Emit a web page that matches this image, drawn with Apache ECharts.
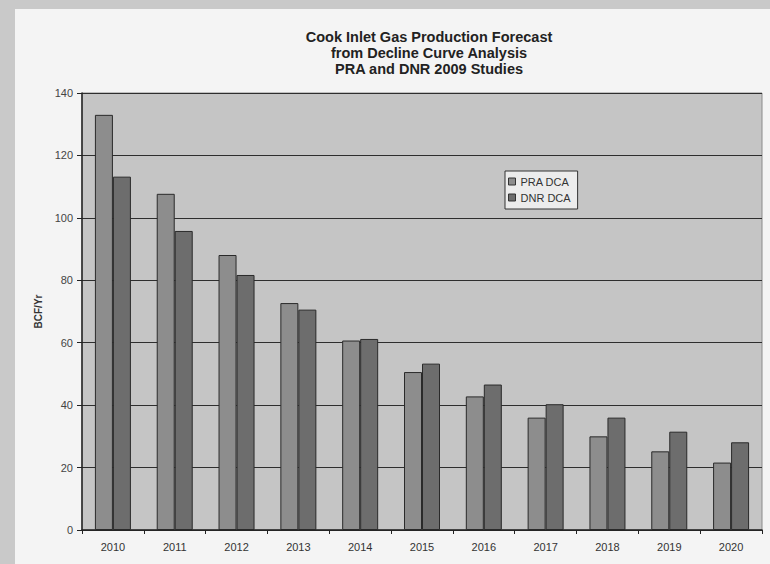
<!DOCTYPE html>
<html>
<head>
<meta charset="utf-8">
<script src="https://cdn.jsdelivr.net/npm/echarts@6/dist/echarts.min.js"></script>
<style>
  html, body { margin: 0; padding: 0; }
  body { width: 770px; height: 564px; background: #c9c9c9; position: relative; overflow: hidden; }
  #page { position: absolute; left: 15px; top: 9px; right: 0; bottom: 0; background: #f4f4f4; }
  #chart { position: absolute; left: 0; top: 0; width: 770px; height: 564px; }
</style>
</head>
<body>
<div id="page"></div>
<div id="chart"></div>
<script>
const years = ["2010", "2011", "2012", "2013", "2014", "2015", "2016", "2017", "2018", "2019", "2020"];
const praDca = [133, 107.7, 88.1, 72.7, 60.7, 50.6, 42.8, 36.0, 30.0, 25.2, 21.6];
const dnrDca = [113.2, 95.8, 81.7, 70.6, 61.2, 53.3, 46.6, 40.3, 36.0, 31.5, 28.1];
const titleLines = ["Cook Inlet Gas Production Forecast", "from Decline Curve Analysis", "PRA and DNR 2009 Studies"];

const chart = echarts.init(document.getElementById("chart"), null, { renderer: "svg" });

chart.setOption({
  backgroundColor: "transparent",
  animation: false,
  textStyle: { fontFamily: "Liberation Sans, Arial, sans-serif" },
  title: {
    text: titleLines.join("\n"),
    left: 424,
    top: 24,
    textAlign: "center",
    textStyle: { fontSize: 14.5, fontWeight: "bold", color: "#222", lineHeight: 16 },
  },
  legend: {
    orient: "vertical",
    left: 505,
    top: 171,
    icon: "rect",
    itemWidth: 7,
    itemHeight: 7,
    itemGap: 5,
    padding: [5, 7, 6, 3],
    backgroundColor: "#ececec",
    borderColor: "#333",
    borderWidth: 1,
    itemStyle: { borderColor: "#333", borderWidth: 1 },
    textStyle: { fontSize: 11, color: "#333" },
    data: ["PRA DCA", "DNR DCA"],
  },
  grid: {
    left: 82,
    right: 8,
    top: 93,
    bottom: 34,
    show: true,
    backgroundColor: "#c5c5c5",
    borderColor: "#8a8a8a",
    borderWidth: 1,
  },
  xAxis: {
    type: "category",
    data: years,
    axisLine: { lineStyle: { color: "#222", width: 1.5 } },
    axisTick: { show: true, length: 4, lineStyle: { color: "#222" } },
    axisLabel: { fontSize: 11, color: "#333", margin: 11 },
  },
  yAxis: {
    type: "value",
    min: 0,
    max: 140,
    interval: 20,
    name: "BCF/Yr",
    nameLocation: "middle",
    nameGap: 37,
    nameTextStyle: { fontSize: 10, fontWeight: "bold", color: "#333" },
    axisLine: { show: true, lineStyle: { color: "#222", width: 1.5 } },
    axisTick: { show: true, length: 5, lineStyle: { color: "#222" } },
    axisLabel: { fontSize: 11, color: "#444", margin: 9 },
    splitLine: { lineStyle: { color: "#2e2e2e", width: 1.2 } },
  },
  series: [
    {
      name: "PRA DCA",
      type: "bar",
      data: praDca,
      barWidth: 18,
      barGap: "0%",
      itemStyle: { color: "#8d8d8d", borderColor: "#2a2a2a", borderWidth: 1 },
    },
    {
      name: "DNR DCA",
      type: "bar",
      data: dnrDca,
      barWidth: 18,
      itemStyle: { color: "#6d6d6d", borderColor: "#2a2a2a", borderWidth: 1 },
    },
  ],
});
</script>
</body>
</html>
